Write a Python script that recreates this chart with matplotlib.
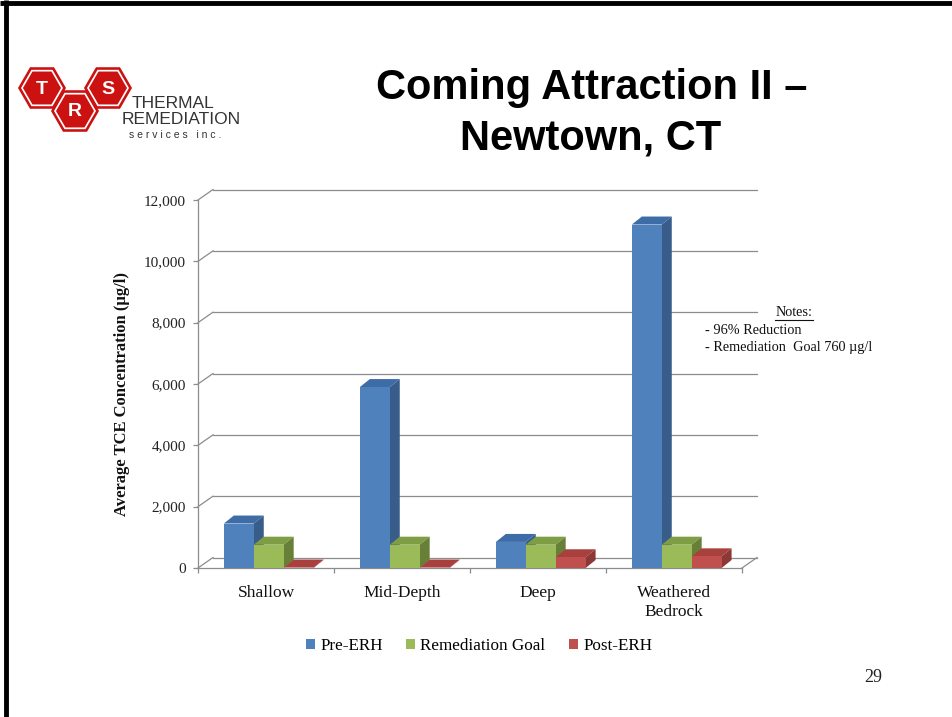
import matplotlib
matplotlib.use("Agg")
import matplotlib.pyplot as plt
from matplotlib.patches import Polygon, RegularPolygon, Patch
import numpy as np

# ---------------- data ----------------
categories = ["Shallow", "Mid-Depth", "Deep", "Weathered\nBedrock"]
series_names = ["Pre-ERH", "Remediation Goal", "Post-ERH"]
pre_erh = [1450, 5900, 850, 11200]
remediation_goal = [760, 760, 760, 760]
post_erh = [15, 15, 350, 380]
y_ticks = [0, 2000, 4000, 6000, 8000, 10000, 12000]
y_label = "Average TCE Concentration (µg/l)"
title_lines = ["Coming Attraction II –", "Newtown, CT"]
notes_title = "Notes:"
notes_lines = ["- 96% Reduction", "- Remediation  Goal 760 µg/l"]
page_number = "29"

# ---------------- style ----------------
W, H = 953, 717
fig = plt.figure(figsize=(W / 100, H / 100), dpi=100)
fig.patch.set_facecolor("white")
SERIF = ["Liberation Serif", "DejaVu Serif"]
SANS = ["Liberation Sans", "DejaVu Sans"]
NARROW = ["Liberation Sans Narrow", "Liberation Sans", "DejaVu Sans"]

front_cols = ["#4F81BD", "#9BBB59", "#C0504D"]
top_cols = ["#3E6CA6", "#7F9D45", "#A8403D"]
side_cols = ["#385D8A", "#687F38", "#8C3836"]
grid_col = "#8C8C8C"

# plot area (front plane) in pixels
L, R, B, T = 198, 742, 568, 200
ax = fig.add_axes([L / W, 1 - B / H, (R - L) / W, (B - T) / H])
ax.set_xlim(-0.5, 3.5)
ax.set_ylim(0, 12000)
ax.patch.set_alpha(0)

px_x = 4.0 / (R - L)          # data units per pixel (x)
px_y = 12000.0 / (B - T)      # data units per pixel (y)
WDX, WDY = 15 * px_x, 10.5 * px_y   # wall depth
BDX, BDY = 10 * px_x, 8 * px_y      # bar depth

# back wall gridlines + side diagonals
x0, x1 = -0.5, 3.5
for v in y_ticks:
    ax.plot([x0 + WDX, x1 + WDX], [v + WDY, v + WDY], color=grid_col, lw=0.9,
            clip_on=False, zorder=1)
    ax.plot([x0, x0 + WDX], [v, v + WDY], color=grid_col, lw=0.9,
            clip_on=False, zorder=1)
ax.plot([x1, x1 + WDX], [0, WDY], color=grid_col, lw=0.9, clip_on=False, zorder=1)

# bars
offsets = [-0.2, 0.02, 0.24]
bw = 0.22
all_series = [pre_erh, remediation_goal, post_erh]
for i in range(len(categories)):
    for s, vals in enumerate(all_series):
        v = vals[i]
        xl = i + offsets[s] - bw / 2
        xr = xl + bw
        top = Polygon([[xl, v], [xr, v], [xr + BDX, v + BDY], [xl + BDX, v + BDY]],
                      closed=True, facecolor=top_cols[s], edgecolor="none",
                      zorder=3, clip_on=False)
        side = Polygon([[xr, 0], [xr + BDX, BDY], [xr + BDX, v + BDY], [xr, v]],
                       closed=True, facecolor=side_cols[s], edgecolor="none",
                       zorder=3, clip_on=False)
        ax.add_patch(top)
        ax.add_patch(side)
        ax.bar(xl, v, width=bw, align="edge", color=front_cols[s],
               edgecolor="none", zorder=3, clip_on=False)

# spines / ticks
for sp in ["top", "right"]:
    ax.spines[sp].set_visible(False)
for sp in ["left", "bottom"]:
    ax.spines[sp].set_color(grid_col)
    ax.spines[sp].set_linewidth(0.9)
ax.set_yticks(y_ticks)
ax.set_yticklabels([f"{v:,}" for v in y_ticks], fontfamily=SERIF, fontsize=11,
                   color="#222222")
ax.tick_params(axis="y", direction="out", length=3.6, width=0.9,
               color=grid_col, pad=5)
ax.set_xticks([-0.5, 0.5, 1.5, 2.5, 3.5])
ax.set_xticklabels([])
ax.tick_params(axis="x", which="major", direction="out", length=3.6, width=0.9,
               color=grid_col)
ax.set_xticks(range(len(categories)), minor=True)
ax.set_xticklabels(categories, minor=True, fontfamily=SERIF, fontsize=12.5,
                   color="#111111", linespacing=1.25)
ax.tick_params(axis="x", which="minor", length=0, pad=12)

ax.set_ylabel(y_label, fontfamily=SERIF, fontsize=12, fontweight="bold",
              color="#111111")
ax.yaxis.set_label_coords((130 - L) / (R - L), (B - 394) / (B - T))

# legend
handles = [Patch(facecolor=c, edgecolor="none") for c in front_cols]
fig.legend(handles, series_names, loc="center", ncol=3,
           bbox_to_anchor=(479 / W, 1 - 646 / H), frameon=False,
           prop={"family": SERIF, "size": 12.3}, handlelength=0.55,
           handleheight=0.55, handletextpad=0.3, columnspacing=1.35)

# ---------------- overlay (slide decorations) ----------------
ov = fig.add_axes([0, 0, 1, 1])
ov.set_xlim(0, W)
ov.set_ylim(H, 0)
ov.axis("off")
ov.patch.set_alpha(0)

# slide border
ov.plot([0, W], [2.5, 2.5], color="black", lw=3.5, solid_capstyle="butt")
ov.plot([6.5, 6.5], [0, H], color="black", lw=3.5, solid_capstyle="butt")

# logo
logo_red = "#CC1111"
for (cx, cy, letter) in [(42, 88, "T"), (108, 88, "S"), (75, 111, "R")]:
    ov.add_patch(RegularPolygon((cx, cy), 6, radius=24, orientation=np.pi / 6,
                                facecolor=logo_red, edgecolor="none"))
    ov.add_patch(RegularPolygon((cx, cy), 6, radius=21, orientation=np.pi / 6,
                                facecolor="white", edgecolor="none"))
    ov.add_patch(RegularPolygon((cx, cy), 6, radius=19, orientation=np.pi / 6,
                                facecolor=logo_red, edgecolor="none"))
    ov.text(cx, cy + 1, letter, ha="center", va="center", color="white",
            fontsize=14, fontweight="bold", family=SANS)
ov.text(132, 104, "THERMAL", ha="left", va="center", fontsize=12.5,
        family=SANS, color="#333333")
ov.text(122, 120, "REMEDIATION", ha="left", va="center", fontsize=12.5,
        family=NARROW, color="#333333")
ov.text(129, 135, "s e r v i c e s   i n c .", ha="left", va="center",
        fontsize=7.5, family=SANS, color="#333333")

# title
ov.text(592, 88, title_lines[0], ha="center", va="center", fontsize=30,
        fontweight="bold", family=SANS, color="black")
ov.text(591, 139, title_lines[1], ha="center", va="center", fontsize=30,
        fontweight="bold", family=SANS, color="black")

# notes
ov.text(794, 313, notes_title, ha="center", va="center", fontsize=10.3,
        family=SERIF, color="#111111")
ov.plot([775, 813], [320, 320], color="#111111", lw=0.8)
ov.text(705, 330, notes_lines[0], ha="left", va="center", fontsize=10.3,
        family=SERIF, color="#111111",
        bbox=dict(facecolor="white", edgecolor="none", pad=0.5))
ov.text(705, 348, notes_lines[1], ha="left", va="center", fontsize=10.3,
        family=SERIF, color="#111111",
        bbox=dict(facecolor="white", edgecolor="none", pad=0.5))

# page number
ov.text(873, 677, page_number, ha="center", va="center", fontsize=13,
        family=SERIF, color="#222222")

fig.savefig("out.png", dpi=100)
